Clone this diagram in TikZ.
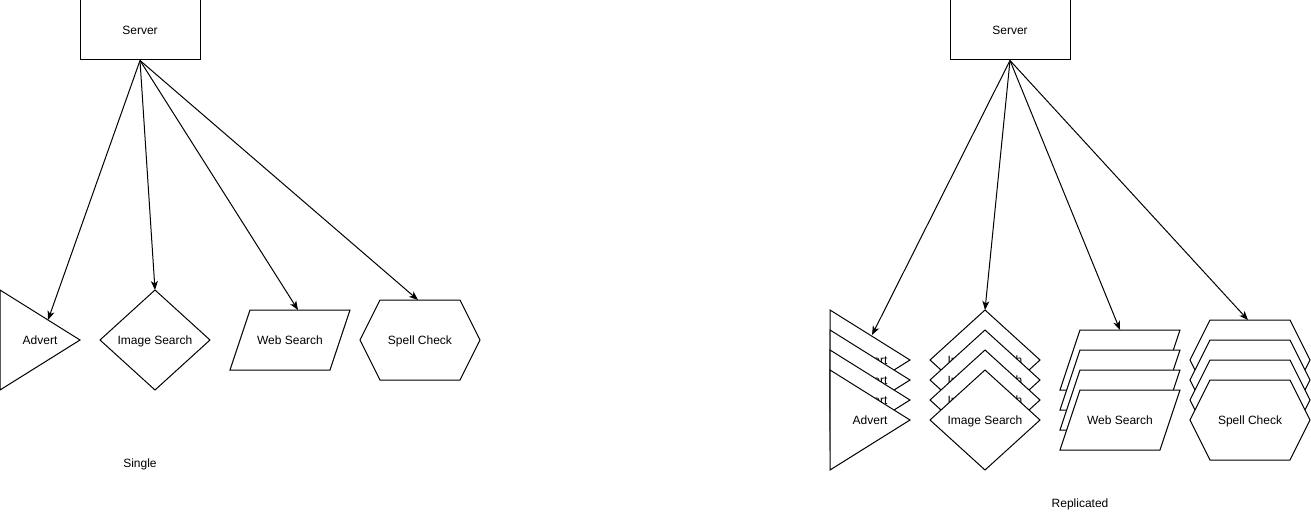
\documentclass[tikz,border=0pt]{standalone}
\usepackage{fontspec}
\setmainfont{Liberation Sans}
\usetikzlibrary{arrows.meta,calc}
\begin{document}
\begin{tikzpicture}[x=1pt,y=-1pt,
  every node/.style={font=\fontsize{12}{14}\selectfont, text height=8.6pt, text depth=0pt},
  serverbox/.style={draw, line width=1pt, minimum width=120pt, minimum height=60pt, inner sep=0pt},
  shapelbl/.style={inner sep=0pt},
  outline/.style={draw, fill=white, line width=1pt, line join=miter},
  conn/.style={line width=1pt, -{Stealth[length=9pt,width=7pt,inset=2.5pt]}},
  tri/.pic={\draw[outline] (-40,-50) -- (40,0) -- (-40,50) -- cycle;},
  dia/.pic={\draw[outline] (-55,0) -- (0,-50) -- (55,0) -- (0,50) -- cycle;},
  para/.pic={\draw[outline] (-40,-30) -- (60,-30) -- (40,30) -- (-60,30) -- cycle;},
  hexa/.pic={\draw[outline] (-60,0) -- (-40,-40) -- (40,-40) -- (60,0) -- (40,40) -- (-40,40) -- cycle;}
]
\useasboundingbox (0,0) rectangle (1311,519);

% ---------- Single ----------
\node[serverbox] (s1) at (140,30) {Server};

\pic at (40,340) {tri};
\node[shapelbl] (ad) at (40,340) {Advert};
\coordinate (tad) at (48,320);

\pic at (155,340) {dia};
\node[shapelbl] (im) at (155,340) {Image Search};
\coordinate (tim) at (155,290);

\pic at (290,340) {para};
\node[shapelbl] (ws) at (290,340) {Web Search};
\coordinate (tws) at (298,310);

\pic at (420,340) {hexa};
\node[shapelbl] (sc) at (420,340) {Spell Check};
\coordinate (tsc) at (418,300);

\draw[conn] (s1.south) -- (tad);
\draw[conn] (s1.south) -- (tim);
\draw[conn] (s1.south) -- (tws);
\draw[conn] (s1.south) -- (tsc);

\node (single) at (140,463) {Single};

% ---------- Replicated ----------
\node[serverbox] (s2) at (1010,30) {Server};

\foreach \k in {0,1,2,3}{
  \pgfmathsetmacro{\yy}{360+20*\k}
  \pic at (870,\yy) {tri};
  \node[shapelbl] (adr\k) at (870,\yy) {Advert};
  \pic at (985,\yy) {dia};
  \node[shapelbl] (imr\k) at (985,\yy) {Image Search};
  \pic at (1120,\yy) {para};
  \node[shapelbl] (wsr\k) at (1120,\yy) {Web Search};
  \pic at (1250,\yy) {hexa};
  \node[shapelbl] (scr\k) at (1250,\yy) {Spell Check};
}
\coordinate (tadr) at (872,335);
\coordinate (timr) at (985,310);
\coordinate (twsr) at (1120,330);
\coordinate (tscr) at (1248,320);

\draw[conn] (s2.south) -- (tadr);
\draw[conn] (s2.south) -- (timr);
\draw[conn] (s2.south) -- (twsr);
\draw[conn] (s2.south) -- (tscr);

\node (replicated) at (1080,503) {Replicated};
\end{tikzpicture}
\end{document}
